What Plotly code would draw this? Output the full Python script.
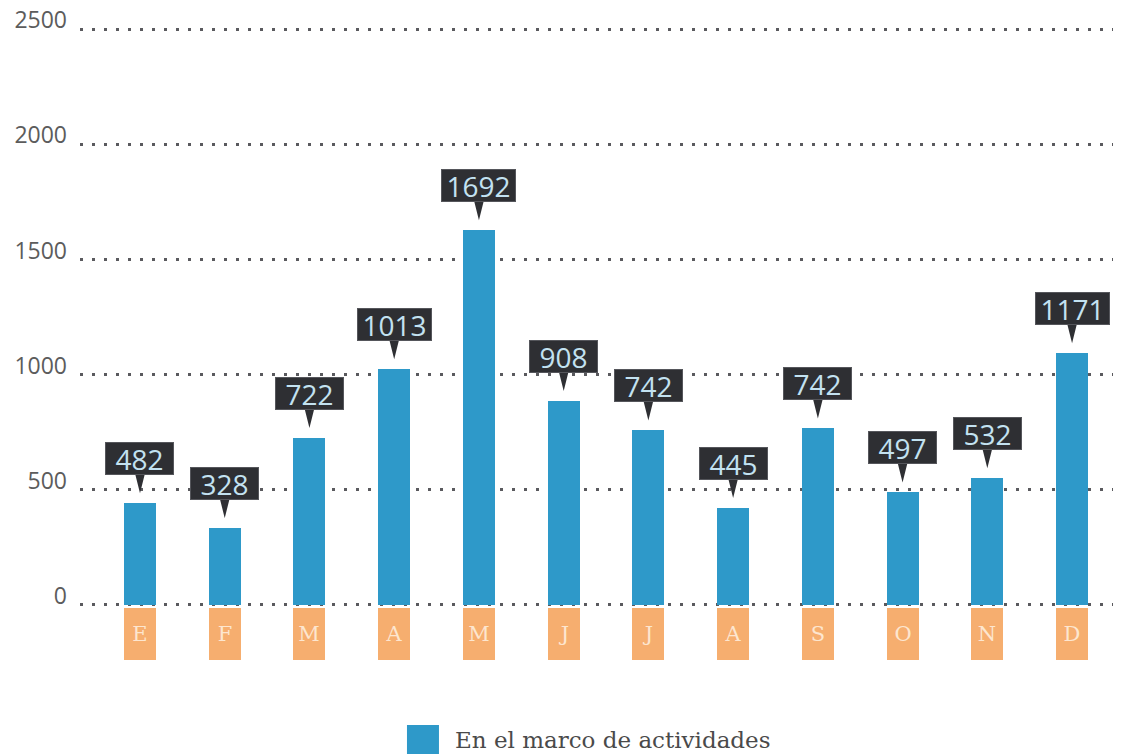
import plotly.graph_objects as go

# ---- data ----
months = ["E", "F", "M", "A", "M", "J", "J", "A", "S", "O", "N", "D"]
bar_values = [441, 333, 724, 1023, 1627, 885, 757, 420, 766, 488, 549, 1093]
label_texts = ["482", "328", "722", "1013", "1692", "908", "742", "445", "742", "497", "532", "1171"]
y_ticks = [0, 500, 1000, 1500, 2000, 2500]
series_name = "En el marco de actividades"

# ---- styles ----
BAR = "#2e99c9"
ORANGE = "#f6ae6f"
LETTER = "#fde6cf"
CALLOUT = "#2e2f33"
CALLOUT_TXT = "#c3e2f1"
GRID = "#5a5a5e"
TXT = "#5c5c5c"

xs = list(range(len(months)))

fig = go.Figure()
fig.add_trace(go.Bar(
    x=xs, y=bar_values, name=series_name,
    marker=dict(color=BAR, line=dict(width=0)),
    width=0.378, showlegend=False, hoverinfo="skip",
))

annotations = []
shapes = []
TIP_GAP = 10
TRI_H = 19
for i, (v, t) in enumerate(zip(bar_values, label_texts)):
    # callout box with value text
    annotations.append(dict(
        x=i, y=v, xref="x", yref="y", text=t, showarrow=False,
        yanchor="bottom", xanchor="center", yshift=TIP_GAP + TRI_H - 1,
        bgcolor=CALLOUT, bordercolor="#55565b", borderwidth=1, borderpad=0,
        width=67 if len(t) == 3 else 73, height=31, valign="middle",
        font=dict(family="Open Sans", size=28, color=CALLOUT_TXT),
    ))
    # pointer triangle
    shapes.append(dict(
        type="path", xref="x", yref="y", xsizemode="pixel", ysizemode="pixel",
        xanchor=i, yanchor=v,
        path=f"M-5,{TIP_GAP + TRI_H + 1} L5,{TIP_GAP + TRI_H + 1} L0,{TIP_GAP} Z",
        fillcolor=CALLOUT, line=dict(width=0), layer="above",
    ))
    # month label box
    annotations.append(dict(
        x=i, y=0, xref="x", yref="y", text=months[i], showarrow=False,
        yanchor="top", xanchor="center", yshift=-3,
        bgcolor=ORANGE, borderpad=0, borderwidth=0, width=32, height=52,
        valign="middle",
        font=dict(family="DejaVu Serif", size=21, color=LETTER),
    ))

# manual legend
shapes.append(dict(
    type="rect", xref="paper", yref="paper",
    x0=0.3117, x1=0.3422, y0=-0.2586, y1=-0.2034,
    fillcolor=BAR, line=dict(width=0),
))
annotations.append(dict(
    x=0.3556, y=-0.2293, xref="paper", yref="paper", text=series_name,
    showarrow=False, xanchor="left", yanchor="middle",
    font=dict(family="DejaVu Serif", size=23, color="#4a4a4a"),
))

fig.update_layout(
    width=1121, height=754,
    margin=dict(l=72, r=0, t=19, b=155),
    paper_bgcolor="white", plot_bgcolor="white",
    bargap=0,
    xaxis=dict(
        range=[-0.708, 11.672], showgrid=False, zeroline=False,
        showticklabels=False, ticks="", showline=False, automargin=False,
    ),
    yaxis=dict(
        range=[-10, 2510], tickvals=y_ticks, ticktext=[str(v) for v in y_ticks],
        showgrid=True, gridcolor=GRID, gridwidth=3, griddash="3px,9px",
        zeroline=False, showline=False, ticks="", automargin=False,
        tickfont=dict(family="Open Sans", size=23, color=TXT),
        ticklabelshift=-9, ticklabelstandoff=12, ticklabeloverflow="allow",
    ),
    annotations=annotations,
    shapes=shapes,
)

fig.write_html("out.html")
